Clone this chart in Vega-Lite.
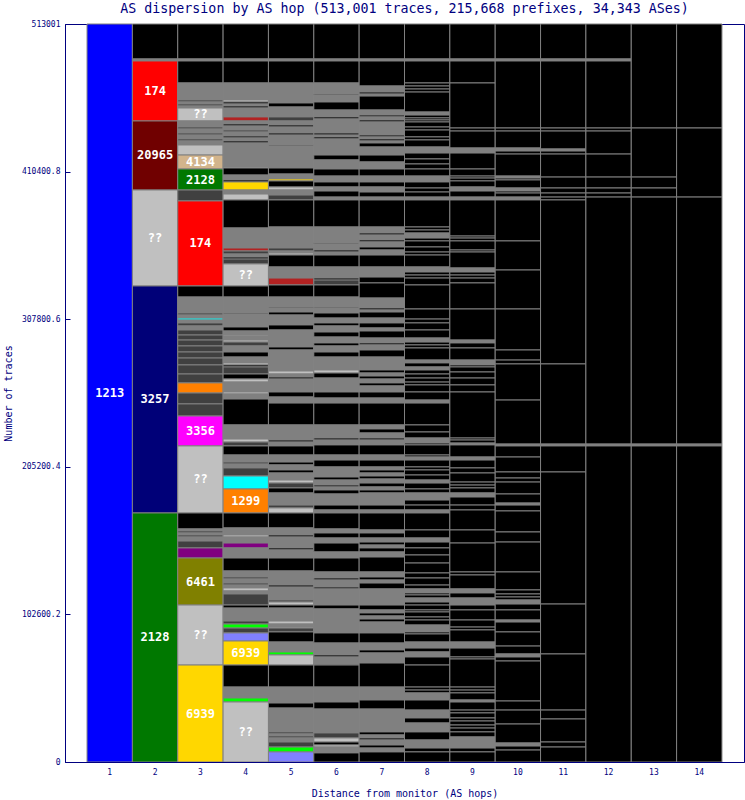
{
"$schema":"https://vega.github.io/schema/vega-lite/v6.json",
"width":679,"height":738,"autosize":"none",
"padding":{"left":65,"top":24,"right":1,"bottom":38},
"background":"white",
"title":{"text":"AS dispersion by AS hop (513,001 traces, 215,668 prefixes, 34,343 ASes)","font":"DejaVu Sans Mono","fontSize":13.3,"fontWeight":"normal","color":"#000080","anchor":"middle","frame":"group","offset":5},
"config":{"view":{"stroke":"#000080","strokeWidth":1}},
"data":{"values":[
{"h":1,"a":513001,"b":0,"k":"1213","t":"1213"},
{"h":2,"a":513001,"b":488700,"k":"none"},{"h":2,"a":488700,"b":487300,"k":"other"},{"h":2,"a":487300,"b":445600,"k":"174","t":"174"},{"h":2,"a":445600,"b":397600,"k":"20965","t":"20965"},{"h":2,"a":397600,"b":330900,"k":"??","t":"??"},{"h":2,"a":330900,"b":173100,"k":"3257","t":"3257"},{"h":2,"a":173100,"b":0,"k":"2128","t":"2128"},
{"h":3,"a":513001,"b":488700,"k":"none"},{"h":3,"a":488700,"b":487300,"k":"other"},{"h":3,"a":487300,"b":472000,"k":"none"},{"h":3,"a":472000,"b":460200,"k":"other"},{"h":3,"a":460200,"b":458800,"k":"multi"},{"h":3,"a":458800,"b":457400,"k":"other"},{"h":3,"a":457400,"b":456000,"k":"multi"},{"h":3,"a":456000,"b":454600,"k":"other"},{"h":3,"a":454600,"b":445600,"k":"??","t":"??"},{"h":3,"a":445600,"b":441400,"k":"other"},{"h":3,"a":441400,"b":440000,"k":"multi"},{"h":3,"a":440000,"b":437200,"k":"other"},{"h":3,"a":437200,"b":435800,"k":"multi"},{"h":3,"a":435800,"b":433100,"k":"other"},{"h":3,"a":433100,"b":431700,"k":"multi"},{"h":3,"a":431700,"b":428900,"k":"other"},{"h":3,"a":428900,"b":421900,"k":"??"},{"h":3,"a":421900,"b":412200,"k":"4134","t":"4134"},{"h":3,"a":412200,"b":397600,"k":"2128","t":"2128"},{"h":3,"a":397600,"b":390000,"k":"multi"},{"h":3,"a":390000,"b":330900,"k":"174","t":"174"},{"h":3,"a":330900,"b":323200,"k":"none"},{"h":3,"a":323200,"b":312100,"k":"other"},{"h":3,"a":312100,"b":310700,"k":"multi"},{"h":3,"a":310700,"b":308600,"k":"other"},{"h":3,"a":308600,"b":307200,"k":"AS-a"},{"h":3,"a":307200,"b":305200,"k":"other"},{"h":3,"a":305200,"b":303100,"k":"multi"},{"h":3,"a":303100,"b":300300,"k":"other"},{"h":3,"a":300300,"b":296800,"k":"multi"},{"h":3,"a":296800,"b":293300,"k":"multi"},{"h":3,"a":293300,"b":289200,"k":"multi"},{"h":3,"a":289200,"b":285000,"k":"multi"},{"h":3,"a":285000,"b":280800,"k":"multi"},{"h":3,"a":280800,"b":276000,"k":"multi"},{"h":3,"a":276000,"b":269700,"k":"multi"},{"h":3,"a":269700,"b":263500,"k":"multi"},{"h":3,"a":263500,"b":256500,"k":"1299"},{"h":3,"a":256500,"b":248900,"k":"multi"},{"h":3,"a":248900,"b":240500,"k":"multi"},{"h":3,"a":240500,"b":219700,"k":"3356","t":"3356"},{"h":3,"a":219700,"b":173100,"k":"??","t":"??"},{"h":3,"a":173100,"b":162000,"k":"none"},{"h":3,"a":162000,"b":160600,"k":"other"},{"h":3,"a":160600,"b":159200,"k":"multi"},{"h":3,"a":159200,"b":157800,"k":"other"},{"h":3,"a":157800,"b":156400,"k":"multi"},{"h":3,"a":156400,"b":153600,"k":"other"},{"h":3,"a":153600,"b":148800,"k":"multi"},{"h":3,"a":148800,"b":141800,"k":"AS-c"},{"h":3,"a":141800,"b":109100,"k":"6461","t":"6461"},{"h":3,"a":109100,"b":67400,"k":"??","t":"??"},{"h":3,"a":67400,"b":0,"k":"6939","t":"6939"},
{"h":4,"a":513001,"b":488700,"k":"none"},{"h":4,"a":488700,"b":487300,"k":"other"},{"h":4,"a":487300,"b":472000,"k":"none"},{"h":4,"a":472000,"b":460200,"k":"other"},{"h":4,"a":460200,"b":458800,"k":"??"},{"h":4,"a":458800,"b":457400,"k":"none"},{"h":4,"a":457400,"b":456000,"k":"other"},{"h":4,"a":456000,"b":454600,"k":"none"},{"h":4,"a":454600,"b":448400,"k":"other"},{"h":4,"a":448400,"b":445600,"k":"AS-b"},{"h":4,"a":445600,"b":443500,"k":"other"},{"h":4,"a":443500,"b":442100,"k":"none"},{"h":4,"a":442100,"b":439300,"k":"other"},{"h":4,"a":439300,"b":437900,"k":"multi"},{"h":4,"a":437900,"b":435100,"k":"other"},{"h":4,"a":435100,"b":433800,"k":"none"},{"h":4,"a":433800,"b":431700,"k":"other"},{"h":4,"a":431700,"b":430300,"k":"none"},{"h":4,"a":430300,"b":413600,"k":"other"},{"h":4,"a":413600,"b":412900,"k":"??"},{"h":4,"a":412900,"b":408000,"k":"none"},{"h":4,"a":408000,"b":404600,"k":"other"},{"h":4,"a":404600,"b":403200,"k":"none"},{"h":4,"a":403200,"b":397600,"k":"6939"},{"h":4,"a":397600,"b":394800,"k":"other"},{"h":4,"a":394800,"b":390700,"k":"??"},{"h":4,"a":390700,"b":371200,"k":"none"},{"h":4,"a":371200,"b":357300,"k":"other"},{"h":4,"a":357300,"b":355200,"k":"AS-b"},{"h":4,"a":355200,"b":353100,"k":"multi"},{"h":4,"a":353100,"b":351000,"k":"other"},{"h":4,"a":351000,"b":349600,"k":"none"},{"h":4,"a":349600,"b":346200,"k":"multi"},{"h":4,"a":346200,"b":330900,"k":"??","t":"??"},{"h":4,"a":330900,"b":323200,"k":"none"},{"h":4,"a":323200,"b":312100,"k":"other"},{"h":4,"a":312100,"b":311400,"k":"none"},{"h":4,"a":311400,"b":302400,"k":"other"},{"h":4,"a":302400,"b":299600,"k":"none"},{"h":4,"a":299600,"b":296800,"k":"other"},{"h":4,"a":296800,"b":296100,"k":"??"},{"h":4,"a":296100,"b":293300,"k":"other"},{"h":4,"a":293300,"b":291900,"k":"??"},{"h":4,"a":291900,"b":289200,"k":"multi"},{"h":4,"a":289200,"b":285000,"k":"other"},{"h":4,"a":285000,"b":281500,"k":"none"},{"h":4,"a":281500,"b":277400,"k":"other"},{"h":4,"a":277400,"b":276000,"k":"??"},{"h":4,"a":276000,"b":274600,"k":"none"},{"h":4,"a":274600,"b":269700,"k":"multi"},{"h":4,"a":269700,"b":266200,"k":"none"},{"h":4,"a":266200,"b":264100,"k":"??"},{"h":4,"a":264100,"b":257200,"k":"other"},{"h":4,"a":257200,"b":255800,"k":"??"},{"h":4,"a":255800,"b":252300,"k":"other"},{"h":4,"a":252300,"b":234300,"k":"none"},{"h":4,"a":234300,"b":224500,"k":"other"},{"h":4,"a":224500,"b":222400,"k":"??"},{"h":4,"a":222400,"b":219700,"k":"multi"},{"h":4,"a":219700,"b":213400,"k":"none"},{"h":4,"a":213400,"b":208500,"k":"other"},{"h":4,"a":208500,"b":207100,"k":"multi"},{"h":4,"a":207100,"b":204400,"k":"other"},{"h":4,"a":204400,"b":198800,"k":"multi"},{"h":4,"a":198800,"b":189800,"k":"AS-a"},{"h":4,"a":189800,"b":173100,"k":"1299","t":"1299"},{"h":4,"a":173100,"b":162700,"k":"none"},{"h":4,"a":162700,"b":157800,"k":"other"},{"h":4,"a":157800,"b":156400,"k":"??"},{"h":4,"a":156400,"b":152200,"k":"other"},{"h":4,"a":152200,"b":148800,"k":"AS-c"},{"h":4,"a":148800,"b":141800,"k":"other"},{"h":4,"a":141800,"b":132800,"k":"none"},{"h":4,"a":132800,"b":128600,"k":"other"},{"h":4,"a":128600,"b":127200,"k":"multi"},{"h":4,"a":127200,"b":124400,"k":"other"},{"h":4,"a":124400,"b":123000,"k":"multi"},{"h":4,"a":123000,"b":121000,"k":"other"},{"h":4,"a":121000,"b":118900,"k":"??"},{"h":4,"a":118900,"b":116800,"k":"other"},{"h":4,"a":116800,"b":109100,"k":"multi"},{"h":4,"a":109100,"b":107000,"k":"none"},{"h":4,"a":107000,"b":98000,"k":"other"},{"h":4,"a":98000,"b":95900,"k":"multi"},{"h":4,"a":95900,"b":93100,"k":"AS-d"},{"h":4,"a":93100,"b":89700,"k":"multi"},{"h":4,"a":89700,"b":84100,"k":"AS-e"},{"h":4,"a":84100,"b":67400,"k":"6939","t":"6939"},{"h":4,"a":67400,"b":52100,"k":"none"},{"h":4,"a":52100,"b":44500,"k":"other"},{"h":4,"a":44500,"b":41700,"k":"AS-d"},{"h":4,"a":41700,"b":0,"k":"??","t":"??"},
{"h":5,"a":513001,"b":488700,"k":"none"},{"h":5,"a":488700,"b":487300,"k":"other"},{"h":5,"a":487300,"b":472000,"k":"none"},{"h":5,"a":472000,"b":458100,"k":"other"},{"h":5,"a":458100,"b":455300,"k":"none"},{"h":5,"a":455300,"b":448400,"k":"other"},{"h":5,"a":448400,"b":445600,"k":"multi"},{"h":5,"a":445600,"b":442800,"k":"other"},{"h":5,"a":442800,"b":441400,"k":"none"},{"h":5,"a":441400,"b":437200,"k":"other"},{"h":5,"a":437200,"b":435800,"k":"none"},{"h":5,"a":435800,"b":428900,"k":"other"},{"h":5,"a":428900,"b":428200,"k":"none"},{"h":5,"a":428200,"b":412900,"k":"other"},{"h":5,"a":412900,"b":408700,"k":"none"},{"h":5,"a":408700,"b":405300,"k":"other"},{"h":5,"a":405300,"b":403900,"k":"6939"},{"h":5,"a":403900,"b":399700,"k":"none"},{"h":5,"a":399700,"b":397600,"k":"??"},{"h":5,"a":397600,"b":394100,"k":"other"},{"h":5,"a":394100,"b":390700,"k":"multi"},{"h":5,"a":390700,"b":371900,"k":"none"},{"h":5,"a":371900,"b":357300,"k":"other"},{"h":5,"a":357300,"b":355200,"k":"multi"},{"h":5,"a":355200,"b":353800,"k":"other"},{"h":5,"a":353800,"b":352400,"k":"??"},{"h":5,"a":352400,"b":344100,"k":"none"},{"h":5,"a":344100,"b":336400,"k":"other"},{"h":5,"a":336400,"b":331600,"k":"AS-b"},{"h":5,"a":331600,"b":323200,"k":"none"},{"h":5,"a":323200,"b":316300,"k":"other"},{"h":5,"a":316300,"b":315600,"k":"none"},{"h":5,"a":315600,"b":312800,"k":"other"},{"h":5,"a":312800,"b":310700,"k":"none"},{"h":5,"a":310700,"b":303800,"k":"other"},{"h":5,"a":303800,"b":300300,"k":"none"},{"h":5,"a":300300,"b":288500,"k":"other"},{"h":5,"a":288500,"b":286400,"k":"none"},{"h":5,"a":286400,"b":271800,"k":"other"},{"h":5,"a":271800,"b":269700,"k":"??"},{"h":5,"a":269700,"b":267600,"k":"other"},{"h":5,"a":267600,"b":266200,"k":"none"},{"h":5,"a":266200,"b":257200,"k":"other"},{"h":5,"a":257200,"b":253700,"k":"none"},{"h":5,"a":253700,"b":249500,"k":"other"},{"h":5,"a":249500,"b":234300,"k":"none"},{"h":5,"a":234300,"b":223800,"k":"other"},{"h":5,"a":223800,"b":222400,"k":"none"},{"h":5,"a":222400,"b":219700,"k":"other"},{"h":5,"a":219700,"b":213400,"k":"none"},{"h":5,"a":213400,"b":208500,"k":"other"},{"h":5,"a":208500,"b":206500,"k":"none"},{"h":5,"a":206500,"b":203000,"k":"other"},{"h":5,"a":203000,"b":200900,"k":"none"},{"h":5,"a":200900,"b":196000,"k":"other"},{"h":5,"a":196000,"b":193900,"k":"??"},{"h":5,"a":193900,"b":190500,"k":"multi"},{"h":5,"a":190500,"b":187000,"k":"none"},{"h":5,"a":187000,"b":178600,"k":"other"},{"h":5,"a":178600,"b":176600,"k":"multi"},{"h":5,"a":176600,"b":173100,"k":"??"},{"h":5,"a":173100,"b":162700,"k":"none"},{"h":5,"a":162700,"b":157800,"k":"other"},{"h":5,"a":157800,"b":156400,"k":"none"},{"h":5,"a":156400,"b":148800,"k":"other"},{"h":5,"a":148800,"b":147400,"k":"none"},{"h":5,"a":147400,"b":141800,"k":"other"},{"h":5,"a":141800,"b":132800,"k":"none"},{"h":5,"a":132800,"b":123000,"k":"other"},{"h":5,"a":123000,"b":121600,"k":"none"},{"h":5,"a":121600,"b":112600,"k":"other"},{"h":5,"a":112600,"b":111200,"k":"multi"},{"h":5,"a":111200,"b":109100,"k":"??"},{"h":5,"a":109100,"b":107000,"k":"none"},{"h":5,"a":107000,"b":98000,"k":"other"},{"h":5,"a":98000,"b":95900,"k":"??"},{"h":5,"a":95900,"b":93800,"k":"other"},{"h":5,"a":93800,"b":93100,"k":"??"},{"h":5,"a":93100,"b":90400,"k":"multi"},{"h":5,"a":90400,"b":83400,"k":"none"},{"h":5,"a":83400,"b":76500,"k":"other"},{"h":5,"a":76500,"b":74400,"k":"AS-d"},{"h":5,"a":74400,"b":67400,"k":"??"},{"h":5,"a":67400,"b":52100,"k":"none"},{"h":5,"a":52100,"b":41000,"k":"other"},{"h":5,"a":41000,"b":37500,"k":"none"},{"h":5,"a":37500,"b":20900,"k":"other"},{"h":5,"a":20900,"b":19500,"k":"multi"},{"h":5,"a":19500,"b":18100,"k":"other"},{"h":5,"a":18100,"b":16700,"k":"multi"},{"h":5,"a":16700,"b":13900,"k":"other"},{"h":5,"a":13900,"b":10400,"k":"multi"},{"h":5,"a":10400,"b":7000,"k":"AS-d"},{"h":5,"a":7000,"b":0,"k":"AS-e"},
{"h":6,"a":513001,"b":488700,"k":"none"},{"h":6,"a":488700,"b":487300,"k":"other"},{"h":6,"a":487300,"b":472000,"k":"none"},{"h":6,"a":472000,"b":464300,"k":"other"},{"h":6,"a":464300,"b":463600,"k":"none"},{"h":6,"a":463600,"b":458800,"k":"other"},{"h":6,"a":458800,"b":453200,"k":"none"},{"h":6,"a":453200,"b":448400,"k":"other"},{"h":6,"a":448400,"b":447000,"k":"none"},{"h":6,"a":447000,"b":437200,"k":"other"},{"h":6,"a":437200,"b":435800,"k":"none"},{"h":6,"a":435800,"b":434500,"k":"other"},{"h":6,"a":434500,"b":433100,"k":"none"},{"h":6,"a":433100,"b":421900,"k":"other"},{"h":6,"a":421900,"b":418500,"k":"none"},{"h":6,"a":418500,"b":412200,"k":"other"},{"h":6,"a":412200,"b":407300,"k":"none"},{"h":6,"a":407300,"b":403200,"k":"other"},{"h":6,"a":403200,"b":399700,"k":"none"},{"h":6,"a":399700,"b":396900,"k":"other"},{"h":6,"a":396900,"b":392700,"k":"none"},{"h":6,"a":392700,"b":390700,"k":"other"},{"h":6,"a":390700,"b":371900,"k":"none"},{"h":6,"a":371900,"b":360800,"k":"other"},{"h":6,"a":360800,"b":360100,"k":"none"},{"h":6,"a":360100,"b":355900,"k":"other"},{"h":6,"a":355900,"b":354500,"k":"none"},{"h":6,"a":354500,"b":352400,"k":"other"},{"h":6,"a":352400,"b":344100,"k":"none"},{"h":6,"a":344100,"b":336400,"k":"other"},{"h":6,"a":336400,"b":335000,"k":"none"},{"h":6,"a":335000,"b":331600,"k":"multi"},{"h":6,"a":331600,"b":323200,"k":"none"},{"h":6,"a":323200,"b":316300,"k":"other"},{"h":6,"a":316300,"b":315600,"k":"none"},{"h":6,"a":315600,"b":312100,"k":"other"},{"h":6,"a":312100,"b":308600,"k":"none"},{"h":6,"a":308600,"b":305200,"k":"other"},{"h":6,"a":305200,"b":303100,"k":"none"},{"h":6,"a":303100,"b":298900,"k":"other"},{"h":6,"a":298900,"b":295400,"k":"none"},{"h":6,"a":295400,"b":291300,"k":"other"},{"h":6,"a":291300,"b":289200,"k":"none"},{"h":6,"a":289200,"b":285000,"k":"other"},{"h":6,"a":285000,"b":281500,"k":"none"},{"h":6,"a":281500,"b":272500,"k":"other"},{"h":6,"a":272500,"b":270400,"k":"??"},{"h":6,"a":270400,"b":266900,"k":"none"},{"h":6,"a":266900,"b":257200,"k":"other"},{"h":6,"a":257200,"b":253000,"k":"none"},{"h":6,"a":253000,"b":249500,"k":"other"},{"h":6,"a":249500,"b":234300,"k":"none"},{"h":6,"a":234300,"b":225200,"k":"other"},{"h":6,"a":225200,"b":223800,"k":"none"},{"h":6,"a":223800,"b":220400,"k":"other"},{"h":6,"a":220400,"b":213400,"k":"none"},{"h":6,"a":213400,"b":209900,"k":"other"},{"h":6,"a":209900,"b":205100,"k":"none"},{"h":6,"a":205100,"b":198100,"k":"other"},{"h":6,"a":198100,"b":196000,"k":"none"},{"h":6,"a":196000,"b":192500,"k":"other"},{"h":6,"a":192500,"b":191200,"k":"none"},{"h":6,"a":191200,"b":189100,"k":"other"},{"h":6,"a":189100,"b":186300,"k":"none"},{"h":6,"a":186300,"b":178600,"k":"other"},{"h":6,"a":178600,"b":175200,"k":"none"},{"h":6,"a":175200,"b":173100,"k":"other"},{"h":6,"a":173100,"b":162000,"k":"none"},{"h":6,"a":162000,"b":159200,"k":"other"},{"h":6,"a":159200,"b":155700,"k":"none"},{"h":6,"a":155700,"b":152200,"k":"other"},{"h":6,"a":152200,"b":146000,"k":"none"},{"h":6,"a":146000,"b":141800,"k":"other"},{"h":6,"a":141800,"b":132100,"k":"none"},{"h":6,"a":132100,"b":127900,"k":"other"},{"h":6,"a":127900,"b":126500,"k":"none"},{"h":6,"a":126500,"b":121600,"k":"other"},{"h":6,"a":121600,"b":120300,"k":"none"},{"h":6,"a":120300,"b":109100,"k":"other"},{"h":6,"a":109100,"b":106400,"k":"none"},{"h":6,"a":106400,"b":97300,"k":"other"},{"h":6,"a":97300,"b":89700,"k":"other"},{"h":6,"a":89700,"b":82700,"k":"none"},{"h":6,"a":82700,"b":74400,"k":"other"},{"h":6,"a":74400,"b":73000,"k":"none"},{"h":6,"a":73000,"b":68100,"k":"other"},{"h":6,"a":68100,"b":67400,"k":"multi"},{"h":6,"a":67400,"b":52100,"k":"none"},{"h":6,"a":52100,"b":41700,"k":"other"},{"h":6,"a":41700,"b":36800,"k":"none"},{"h":6,"a":36800,"b":20200,"k":"other"},{"h":6,"a":20200,"b":16700,"k":"multi"},{"h":6,"a":16700,"b":13900,"k":"??"},{"h":6,"a":13900,"b":11800,"k":"none"},{"h":6,"a":11800,"b":10400,"k":"??"},{"h":6,"a":10400,"b":6300,"k":"other"},{"h":6,"a":6300,"b":0,"k":"none"},
{"h":7,"a":513001,"b":488700,"k":"none"},{"h":7,"a":488700,"b":487300,"k":"other"},{"h":7,"a":487300,"b":469900,"k":"none"},{"h":7,"a":469900,"b":465700,"k":"other"},{"h":7,"a":465700,"b":464300,"k":"none"},{"h":7,"a":464300,"b":462900,"k":"other"},{"h":7,"a":462900,"b":453200,"k":"none"},{"h":7,"a":453200,"b":449700,"k":"other"},{"h":7,"a":449700,"b":448400,"k":"none"},{"h":7,"a":448400,"b":446300,"k":"other"},{"h":7,"a":446300,"b":444900,"k":"none"},{"h":7,"a":444900,"b":435800,"k":"other"},{"h":7,"a":435800,"b":434500,"k":"none"},{"h":7,"a":434500,"b":433100,"k":"other"},{"h":7,"a":433100,"b":431700,"k":"none"},{"h":7,"a":431700,"b":430300,"k":"other"},{"h":7,"a":430300,"b":427500,"k":"none"},{"h":7,"a":427500,"b":421900,"k":"other"},{"h":7,"a":421900,"b":417100,"k":"none"},{"h":7,"a":417100,"b":412200,"k":"other"},{"h":7,"a":412200,"b":407300,"k":"none"},{"h":7,"a":407300,"b":403200,"k":"other"},{"h":7,"a":403200,"b":399700,"k":"none"},{"h":7,"a":399700,"b":396200,"k":"other"},{"h":7,"a":396200,"b":392700,"k":"none"},{"h":7,"a":392700,"b":390700,"k":"other"},{"h":7,"a":390700,"b":371900,"k":"none"},{"h":7,"a":371900,"b":367700,"k":"other"},{"h":7,"a":367700,"b":366300,"k":"none"},{"h":7,"a":366300,"b":362900,"k":"other"},{"h":7,"a":362900,"b":361500,"k":"none"},{"h":7,"a":361500,"b":358000,"k":"other"},{"h":7,"a":358000,"b":355900,"k":"none"},{"h":7,"a":355900,"b":352400,"k":"other"},{"h":7,"a":352400,"b":344100,"k":"none"},{"h":7,"a":344100,"b":337100,"k":"other"},{"h":7,"a":337100,"b":333000,"k":"none"},{"h":7,"a":333000,"b":322500,"k":"none"},{"h":7,"a":322500,"b":315600,"k":"other"},{"h":7,"a":315600,"b":314200,"k":"none"},{"h":7,"a":314200,"b":312800,"k":"other"},{"h":7,"a":312800,"b":308600,"k":"none"},{"h":7,"a":308600,"b":305200,"k":"other"},{"h":7,"a":305200,"b":301700,"k":"none"},{"h":7,"a":301700,"b":299600,"k":"other"},{"h":7,"a":299600,"b":294700,"k":"none"},{"h":7,"a":294700,"b":291300,"k":"other"},{"h":7,"a":291300,"b":289900,"k":"none"},{"h":7,"a":289900,"b":286400,"k":"other"},{"h":7,"a":286400,"b":281500,"k":"none"},{"h":7,"a":281500,"b":272500,"k":"other"},{"h":7,"a":272500,"b":270400,"k":"none"},{"h":7,"a":270400,"b":268300,"k":"other"},{"h":7,"a":268300,"b":266200,"k":"none"},{"h":7,"a":266200,"b":263500,"k":"other"},{"h":7,"a":263500,"b":261400,"k":"none"},{"h":7,"a":261400,"b":257200,"k":"other"},{"h":7,"a":257200,"b":253000,"k":"none"},{"h":7,"a":253000,"b":249500,"k":"other"},{"h":7,"a":249500,"b":234300,"k":"none"},{"h":7,"a":234300,"b":231500,"k":"other"},{"h":7,"a":231500,"b":228700,"k":"none"},{"h":7,"a":228700,"b":225200,"k":"other"},{"h":7,"a":225200,"b":223800,"k":"none"},{"h":7,"a":223800,"b":220400,"k":"other"},{"h":7,"a":220400,"b":213400,"k":"none"},{"h":7,"a":213400,"b":209900,"k":"other"},{"h":7,"a":209900,"b":205100,"k":"none"},{"h":7,"a":205100,"b":203000,"k":"other"},{"h":7,"a":203000,"b":200900,"k":"none"},{"h":7,"a":200900,"b":198800,"k":"other"},{"h":7,"a":198800,"b":196700,"k":"none"},{"h":7,"a":196700,"b":193900,"k":"other"},{"h":7,"a":193900,"b":191200,"k":"none"},{"h":7,"a":191200,"b":189100,"k":"other"},{"h":7,"a":189100,"b":187000,"k":"none"},{"h":7,"a":187000,"b":178600,"k":"other"},{"h":7,"a":178600,"b":175200,"k":"none"},{"h":7,"a":175200,"b":173100,"k":"other"},{"h":7,"a":173100,"b":161300,"k":"none"},{"h":7,"a":161300,"b":159200,"k":"other"},{"h":7,"a":159200,"b":155700,"k":"none"},{"h":7,"a":155700,"b":152900,"k":"other"},{"h":7,"a":152900,"b":150800,"k":"none"},{"h":7,"a":150800,"b":148800,"k":"other"},{"h":7,"a":148800,"b":146000,"k":"none"},{"h":7,"a":146000,"b":142500,"k":"other"},{"h":7,"a":142500,"b":132100,"k":"none"},{"h":7,"a":132100,"b":128600,"k":"other"},{"h":7,"a":128600,"b":126500,"k":"none"},{"h":7,"a":126500,"b":124400,"k":"other"},{"h":7,"a":124400,"b":120300,"k":"none"},{"h":7,"a":120300,"b":109100,"k":"other"},{"h":7,"a":109100,"b":105700,"k":"none"},{"h":7,"a":105700,"b":103600,"k":"other"},{"h":7,"a":103600,"b":101500,"k":"none"},{"h":7,"a":101500,"b":99400,"k":"other"},{"h":7,"a":99400,"b":97300,"k":"none"},{"h":7,"a":97300,"b":89700,"k":"other"},{"h":7,"a":89700,"b":82700,"k":"none"},{"h":7,"a":82700,"b":77900,"k":"other"},{"h":7,"a":77900,"b":75800,"k":"none"},{"h":7,"a":75800,"b":68800,"k":"other"},{"h":7,"a":68800,"b":52100,"k":"none"},{"h":7,"a":52100,"b":43100,"k":"other"},{"h":7,"a":43100,"b":36800,"k":"none"},{"h":7,"a":36800,"b":20900,"k":"other"},{"h":7,"a":20900,"b":18800,"k":"none"},{"h":7,"a":18800,"b":16700,"k":"other"},{"h":7,"a":16700,"b":15300,"k":"none"},{"h":7,"a":15300,"b":11800,"k":"other"},{"h":7,"a":11800,"b":9700,"k":"none"},{"h":7,"a":9700,"b":7000,"k":"other"},{"h":7,"a":7000,"b":0,"k":"none"},
{"h":8,"a":513001,"b":488700,"k":"none"},{"h":8,"a":488700,"b":487300,"k":"other"},{"h":8,"a":487300,"b":472000,"k":"none"},{"h":8,"a":472000,"b":469900,"k":"none"},{"h":8,"a":469900,"b":467800,"k":"none"},{"h":8,"a":467800,"b":465700,"k":"none"},{"h":8,"a":465700,"b":451800,"k":"none"},{"h":8,"a":451800,"b":449700,"k":"other"},{"h":8,"a":449700,"b":447700,"k":"none"},{"h":8,"a":447700,"b":446300,"k":"none"},{"h":8,"a":446300,"b":444900,"k":"none"},{"h":8,"a":444900,"b":441400,"k":"none"},{"h":8,"a":441400,"b":439300,"k":"none"},{"h":8,"a":439300,"b":434500,"k":"none"},{"h":8,"a":434500,"b":432400,"k":"none"},{"h":8,"a":432400,"b":427500,"k":"none"},{"h":8,"a":427500,"b":423300,"k":"other"},{"h":8,"a":423300,"b":419200,"k":"none"},{"h":8,"a":419200,"b":415700,"k":"none"},{"h":8,"a":415700,"b":412200,"k":"none"},{"h":8,"a":412200,"b":407300,"k":"none"},{"h":8,"a":407300,"b":403200,"k":"other"},{"h":8,"a":403200,"b":399000,"k":"none"},{"h":8,"a":399000,"b":396200,"k":"none"},{"h":8,"a":396200,"b":392700,"k":"none"},{"h":8,"a":392700,"b":390700,"k":"other"},{"h":8,"a":390700,"b":371900,"k":"none"},{"h":8,"a":371900,"b":369800,"k":"none"},{"h":8,"a":369800,"b":367700,"k":"none"},{"h":8,"a":367700,"b":364200,"k":"other"},{"h":8,"a":364200,"b":362200,"k":"none"},{"h":8,"a":362200,"b":358000,"k":"none"},{"h":8,"a":358000,"b":354500,"k":"none"},{"h":8,"a":354500,"b":352400,"k":"none"},{"h":8,"a":352400,"b":344100,"k":"none"},{"h":8,"a":344100,"b":340600,"k":"other"},{"h":8,"a":340600,"b":338500,"k":"none"},{"h":8,"a":338500,"b":336400,"k":"none"},{"h":8,"a":336400,"b":331600,"k":"none"},{"h":8,"a":331600,"b":314900,"k":"none"},{"h":8,"a":314900,"b":307900,"k":"none"},{"h":8,"a":307900,"b":305200,"k":"none"},{"h":8,"a":305200,"b":300300,"k":"none"},{"h":8,"a":300300,"b":294700,"k":"none"},{"h":8,"a":294700,"b":291900,"k":"other"},{"h":8,"a":291900,"b":289900,"k":"none"},{"h":8,"a":289900,"b":287800,"k":"none"},{"h":8,"a":287800,"b":279400,"k":"none"},{"h":8,"a":279400,"b":277400,"k":"other"},{"h":8,"a":277400,"b":274600,"k":"none"},{"h":8,"a":274600,"b":272500,"k":"other"},{"h":8,"a":272500,"b":269700,"k":"none"},{"h":8,"a":269700,"b":266900,"k":"none"},{"h":8,"a":266900,"b":264100,"k":"none"},{"h":8,"a":264100,"b":262100,"k":"none"},{"h":8,"a":262100,"b":257200,"k":"none"},{"h":8,"a":257200,"b":251600,"k":"none"},{"h":8,"a":251600,"b":249500,"k":"other"},{"h":8,"a":249500,"b":234300,"k":"none"},{"h":8,"a":234300,"b":229400,"k":"none"},{"h":8,"a":229400,"b":225200,"k":"none"},{"h":8,"a":225200,"b":221700,"k":"other"},{"h":8,"a":221700,"b":220400,"k":"none"},{"h":8,"a":220400,"b":213400,"k":"none"},{"h":8,"a":213400,"b":212000,"k":"none"},{"h":8,"a":212000,"b":209900,"k":"other"},{"h":8,"a":209900,"b":205100,"k":"none"},{"h":8,"a":205100,"b":203000,"k":"none"},{"h":8,"a":203000,"b":199500,"k":"none"},{"h":8,"a":199500,"b":196000,"k":"none"},{"h":8,"a":196000,"b":193900,"k":"other"},{"h":8,"a":193900,"b":189800,"k":"none"},{"h":8,"a":189800,"b":187000,"k":"none"},{"h":8,"a":187000,"b":182100,"k":"other"},{"h":8,"a":182100,"b":178600,"k":"none"},{"h":8,"a":178600,"b":175200,"k":"none"},{"h":8,"a":175200,"b":173100,"k":"other"},{"h":8,"a":173100,"b":161300,"k":"none"},{"h":8,"a":161300,"b":155700,"k":"none"},{"h":8,"a":155700,"b":152900,"k":"other"},{"h":8,"a":152900,"b":148800,"k":"none"},{"h":8,"a":148800,"b":143900,"k":"none"},{"h":8,"a":143900,"b":138300,"k":"none"},{"h":8,"a":138300,"b":131400,"k":"none"},{"h":8,"a":131400,"b":127900,"k":"none"},{"h":8,"a":127900,"b":123000,"k":"none"},{"h":8,"a":123000,"b":120300,"k":"none"},{"h":8,"a":120300,"b":117500,"k":"other"},{"h":8,"a":117500,"b":116100,"k":"none"},{"h":8,"a":116100,"b":114000,"k":"none"},{"h":8,"a":114000,"b":111200,"k":"other"},{"h":8,"a":111200,"b":109100,"k":"none"},{"h":8,"a":109100,"b":105700,"k":"none"},{"h":8,"a":105700,"b":104300,"k":"none"},{"h":8,"a":104300,"b":100800,"k":"none"},{"h":8,"a":100800,"b":98700,"k":"none"},{"h":8,"a":98700,"b":95200,"k":"none"},{"h":8,"a":95200,"b":90400,"k":"other"},{"h":8,"a":90400,"b":89000,"k":"none"},{"h":8,"a":89000,"b":83400,"k":"none"},{"h":8,"a":83400,"b":79200,"k":"other"},{"h":8,"a":79200,"b":76500,"k":"none"},{"h":8,"a":76500,"b":73000,"k":"other"},{"h":8,"a":73000,"b":67400,"k":"none"},{"h":8,"a":67400,"b":52100,"k":"none"},{"h":8,"a":52100,"b":50000,"k":"none"},{"h":8,"a":50000,"b":48000,"k":"none"},{"h":8,"a":48000,"b":43100,"k":"other"},{"h":8,"a":43100,"b":36100,"k":"none"},{"h":8,"a":36100,"b":30600,"k":"other"},{"h":8,"a":30600,"b":27100,"k":"none"},{"h":8,"a":27100,"b":20900,"k":"other"},{"h":8,"a":20900,"b":15300,"k":"none"},{"h":8,"a":15300,"b":9700,"k":"other"},{"h":8,"a":9700,"b":7000,"k":"none"},{"h":8,"a":7000,"b":0,"k":"none"},
{"h":9,"a":513001,"b":488700,"k":"none"},{"h":9,"a":488700,"b":487300,"k":"other"},{"h":9,"a":487300,"b":472000,"k":"none"},{"h":9,"a":472000,"b":440700,"k":"none"},{"h":9,"a":440700,"b":438600,"k":"none"},{"h":9,"a":438600,"b":426800,"k":"none"},{"h":9,"a":426800,"b":423300,"k":"other"},{"h":9,"a":423300,"b":412200,"k":"none"},{"h":9,"a":412200,"b":407300,"k":"none"},{"h":9,"a":407300,"b":405900,"k":"none"},{"h":9,"a":405900,"b":403900,"k":"none"},{"h":9,"a":403900,"b":399700,"k":"none"},{"h":9,"a":399700,"b":396900,"k":"other"},{"h":9,"a":396900,"b":392700,"k":"none"},{"h":9,"a":392700,"b":390700,"k":"other"},{"h":9,"a":390700,"b":365600,"k":"none"},{"h":9,"a":365600,"b":364200,"k":"none"},{"h":9,"a":364200,"b":362200,"k":"none"},{"h":9,"a":362200,"b":355900,"k":"none"},{"h":9,"a":355900,"b":354500,"k":"none"},{"h":9,"a":354500,"b":343400,"k":"none"},{"h":9,"a":343400,"b":340600,"k":"other"},{"h":9,"a":340600,"b":338500,"k":"none"},{"h":9,"a":338500,"b":336400,"k":"none"},{"h":9,"a":336400,"b":333000,"k":"none"},{"h":9,"a":333000,"b":314900,"k":"none"},{"h":9,"a":314900,"b":293300,"k":"none"},{"h":9,"a":293300,"b":291300,"k":"other"},{"h":9,"a":291300,"b":287800,"k":"none"},{"h":9,"a":287800,"b":279400,"k":"none"},{"h":9,"a":279400,"b":276000,"k":"other"},{"h":9,"a":276000,"b":274600,"k":"none"},{"h":9,"a":274600,"b":271100,"k":"none"},{"h":9,"a":271100,"b":266900,"k":"none"},{"h":9,"a":266900,"b":262100,"k":"none"},{"h":9,"a":262100,"b":257200,"k":"none"},{"h":9,"a":257200,"b":225200,"k":"none"},{"h":9,"a":225200,"b":223800,"k":"none"},{"h":9,"a":223800,"b":221700,"k":"none"},{"h":9,"a":221700,"b":220400,"k":"other"},{"h":9,"a":220400,"b":212000,"k":"none"},{"h":9,"a":212000,"b":209900,"k":"other"},{"h":9,"a":209900,"b":204400,"k":"none"},{"h":9,"a":204400,"b":200900,"k":"none"},{"h":9,"a":200900,"b":194600,"k":"none"},{"h":9,"a":194600,"b":192500,"k":"none"},{"h":9,"a":192500,"b":190500,"k":"none"},{"h":9,"a":190500,"b":187000,"k":"none"},{"h":9,"a":187000,"b":184200,"k":"other"},{"h":9,"a":184200,"b":178600,"k":"none"},{"h":9,"a":178600,"b":175200,"k":"none"},{"h":9,"a":175200,"b":161300,"k":"none"},{"h":9,"a":161300,"b":152200,"k":"none"},{"h":9,"a":152200,"b":132100,"k":"none"},{"h":9,"a":132100,"b":130000,"k":"none"},{"h":9,"a":130000,"b":120300,"k":"none"},{"h":9,"a":120300,"b":117500,"k":"other"},{"h":9,"a":117500,"b":114000,"k":"none"},{"h":9,"a":114000,"b":109100,"k":"other"},{"h":9,"a":109100,"b":105700,"k":"none"},{"h":9,"a":105700,"b":98700,"k":"none"},{"h":9,"a":98700,"b":93800,"k":"none"},{"h":9,"a":93800,"b":91800,"k":"none"},{"h":9,"a":91800,"b":83400,"k":"none"},{"h":9,"a":83400,"b":79200,"k":"other"},{"h":9,"a":79200,"b":73000,"k":"none"},{"h":9,"a":73000,"b":71600,"k":"none"},{"h":9,"a":71600,"b":52100,"k":"none"},{"h":9,"a":52100,"b":50000,"k":"none"},{"h":9,"a":50000,"b":48000,"k":"none"},{"h":9,"a":48000,"b":43100,"k":"none"},{"h":9,"a":43100,"b":41700,"k":"other"},{"h":9,"a":41700,"b":36100,"k":"none"},{"h":9,"a":36100,"b":34100,"k":"none"},{"h":9,"a":34100,"b":30600,"k":"none"},{"h":9,"a":30600,"b":28500,"k":"none"},{"h":9,"a":28500,"b":25700,"k":"none"},{"h":9,"a":25700,"b":23600,"k":"none"},{"h":9,"a":23600,"b":20900,"k":"none"},{"h":9,"a":20900,"b":17400,"k":"none"},{"h":9,"a":17400,"b":9700,"k":"other"},{"h":9,"a":9700,"b":7000,"k":"none"},{"h":9,"a":7000,"b":0,"k":"none"},
{"h":10,"a":513001,"b":488700,"k":"none"},{"h":10,"a":488700,"b":487300,"k":"other"},{"h":10,"a":487300,"b":440700,"k":"none"},{"h":10,"a":440700,"b":438600,"k":"none"},{"h":10,"a":438600,"b":426800,"k":"none"},{"h":10,"a":426800,"b":424700,"k":"other"},{"h":10,"a":424700,"b":422600,"k":"none"},{"h":10,"a":422600,"b":407300,"k":"none"},{"h":10,"a":407300,"b":405900,"k":"other"},{"h":10,"a":405900,"b":404600,"k":"none"},{"h":10,"a":404600,"b":399000,"k":"none"},{"h":10,"a":399000,"b":396900,"k":"other"},{"h":10,"a":396900,"b":395500,"k":"none"},{"h":10,"a":395500,"b":392700,"k":"none"},{"h":10,"a":392700,"b":390700,"k":"other"},{"h":10,"a":390700,"b":362200,"k":"none"},{"h":10,"a":362200,"b":342000,"k":"none"},{"h":10,"a":342000,"b":314900,"k":"none"},{"h":10,"a":314900,"b":286400,"k":"none"},{"h":10,"a":286400,"b":279400,"k":"none"},{"h":10,"a":279400,"b":276700,"k":"none"},{"h":10,"a":276700,"b":251600,"k":"none"},{"h":10,"a":251600,"b":221000,"k":"none"},{"h":10,"a":221000,"b":219700,"k":"other"},{"h":10,"a":219700,"b":212000,"k":"none"},{"h":10,"a":212000,"b":201600,"k":"none"},{"h":10,"a":201600,"b":197400,"k":"none"},{"h":10,"a":197400,"b":194600,"k":"none"},{"h":10,"a":194600,"b":186300,"k":"none"},{"h":10,"a":186300,"b":180000,"k":"none"},{"h":10,"a":180000,"b":178600,"k":"other"},{"h":10,"a":178600,"b":174500,"k":"none"},{"h":10,"a":174500,"b":159900,"k":"none"},{"h":10,"a":159900,"b":152900,"k":"none"},{"h":10,"a":152900,"b":132100,"k":"none"},{"h":10,"a":132100,"b":119600,"k":"none"},{"h":10,"a":119600,"b":116800,"k":"none"},{"h":10,"a":116800,"b":114700,"k":"none"},{"h":10,"a":114700,"b":112600,"k":"none"},{"h":10,"a":112600,"b":109800,"k":"other"},{"h":10,"a":109800,"b":105700,"k":"none"},{"h":10,"a":105700,"b":98700,"k":"none"},{"h":10,"a":98700,"b":97300,"k":"other"},{"h":10,"a":97300,"b":90400,"k":"none"},{"h":10,"a":90400,"b":80600,"k":"none"},{"h":10,"a":80600,"b":75100,"k":"none"},{"h":10,"a":75100,"b":73000,"k":"other"},{"h":10,"a":73000,"b":70200,"k":"none"},{"h":10,"a":70200,"b":42400,"k":"none"},{"h":10,"a":42400,"b":36100,"k":"none"},{"h":10,"a":36100,"b":26400,"k":"none"},{"h":10,"a":26400,"b":13200,"k":"none"},{"h":10,"a":13200,"b":11100,"k":"other"},{"h":10,"a":11100,"b":8300,"k":"none"},{"h":10,"a":8300,"b":0,"k":"none"},
{"h":11,"a":513001,"b":488700,"k":"none"},{"h":11,"a":488700,"b":487300,"k":"other"},{"h":11,"a":487300,"b":440700,"k":"none"},{"h":11,"a":440700,"b":438600,"k":"none"},{"h":11,"a":438600,"b":426100,"k":"none"},{"h":11,"a":426100,"b":424700,"k":"other"},{"h":11,"a":424700,"b":422600,"k":"none"},{"h":11,"a":422600,"b":406600,"k":"none"},{"h":11,"a":406600,"b":399000,"k":"none"},{"h":11,"a":399000,"b":395500,"k":"none"},{"h":11,"a":395500,"b":392700,"k":"none"},{"h":11,"a":392700,"b":390700,"k":"none"},{"h":11,"a":390700,"b":276700,"k":"none"},{"h":11,"a":276700,"b":221000,"k":"none"},{"h":11,"a":221000,"b":219700,"k":"other"},{"h":11,"a":219700,"b":201600,"k":"none"},{"h":11,"a":201600,"b":109800,"k":"none"},{"h":11,"a":109800,"b":75100,"k":"none"},{"h":11,"a":75100,"b":36100,"k":"none"},{"h":11,"a":36100,"b":29900,"k":"none"},{"h":11,"a":29900,"b":13900,"k":"none"},{"h":11,"a":13900,"b":10400,"k":"none"},{"h":11,"a":10400,"b":0,"k":"none"},
{"h":12,"a":513001,"b":488700,"k":"none"},{"h":12,"a":488700,"b":487300,"k":"other"},{"h":12,"a":487300,"b":440700,"k":"none"},{"h":12,"a":440700,"b":438600,"k":"none"},{"h":12,"a":438600,"b":422600,"k":"none"},{"h":12,"a":422600,"b":406600,"k":"none"},{"h":12,"a":406600,"b":399000,"k":"none"},{"h":12,"a":399000,"b":395500,"k":"none"},{"h":12,"a":395500,"b":392700,"k":"none"},{"h":12,"a":392700,"b":221000,"k":"none"},{"h":12,"a":221000,"b":219700,"k":"other"},{"h":12,"a":219700,"b":0,"k":"none"},
{"h":13,"a":513001,"b":440700,"k":"none"},{"h":13,"a":440700,"b":406600,"k":"none"},{"h":13,"a":406600,"b":399000,"k":"none"},{"h":13,"a":399000,"b":392700,"k":"none"},{"h":13,"a":392700,"b":221000,"k":"none"},{"h":13,"a":221000,"b":219700,"k":"other"},{"h":13,"a":219700,"b":0,"k":"none"},
{"h":14,"a":513001,"b":440700,"k":"none"},{"h":14,"a":440700,"b":392700,"k":"none"},{"h":14,"a":392700,"b":221000,"k":"none"},{"h":14,"a":221000,"b":219700,"k":"other"},{"h":14,"a":219700,"b":0,"k":"none"}
]},
"layer":[
{"mark":{"type":"rect","stroke":"#808080","strokeWidth":1},
 "encoding":{
  "x":{"field":"h","type":"ordinal","scale":{"domain":[1,2,3,4,5,6,7,8,9,10,11,12,13,14],"paddingInner":0,"paddingOuter":0.486},
   "axis":{"labelAngle":0,"ticks":false,"labelPadding":6,"labelColor":"#000080","labelFont":"DejaVu Sans Mono","labelFontSize":8,"domainColor":"#000080","titleFont":"DejaVu Sans Mono","titleFontSize":10,"titleFontWeight":"normal","titleColor":"#000080","titleY":31,"titleBaseline":"middle"},
   "title":"Distance from monitor (AS hops)"},
  "y":{"field":"a","type":"quantitative","scale":{"domain":[0,513001],"nice":false,"zero":true},
   "axis":{"values":[0,102600.2,205200.4,307800.6,410400.8,513001],"labelExpr":"datum.value + ''","grid":false,"zindex":1,"ticks":true,"domainColor":"#000080","tickColor":"#000080","tickWidth":1,"tickSize":-5,"labelPadding":10,"labelColor":"#000080","labelFont":"DejaVu Sans Mono","labelFontSize":8,"labelFlush":false,"titleFont":"DejaVu Sans Mono","titleFontSize":10,"titleFontWeight":"normal","titleColor":"#000080","titleX":-57,"titleY":369,"titleAngle":-90,"titleBaseline":"middle","titleAlign":"center"},
   "title":"Number of traces"},
  "y2":{"field":"b"},
  "color":{"field":"k","type":"nominal","legend":null,
   "scale":{"domain":["1213","174","20965","??","3257","2128","4134","3356","1299","6461","6939","AS-a","AS-b","AS-c","AS-d","AS-e","other","multi","none"],
    "range":["#0000ff","#ff0000","#700000","#c0c0c0","#000078","#007800","#d2b48c","#ff00ff","#ff8000","#808000","#ffd700","#00ffff","#b22222","#800080","#00ff00","#8080ff","#808080","#404040","#000000"]}}}},
{"transform":[{"filter":"datum.t"},{"calculate":"(datum.a+datum.b)/2","as":"m"}],
 "mark":{"type":"text","color":"white","font":"DejaVu Sans Mono","fontWeight":"bold","fontSize":12,"baseline":"middle"},
 "encoding":{"x":{"field":"h","type":"ordinal"},"y":{"field":"m","type":"quantitative"},"text":{"field":"t"}}}
]
}
